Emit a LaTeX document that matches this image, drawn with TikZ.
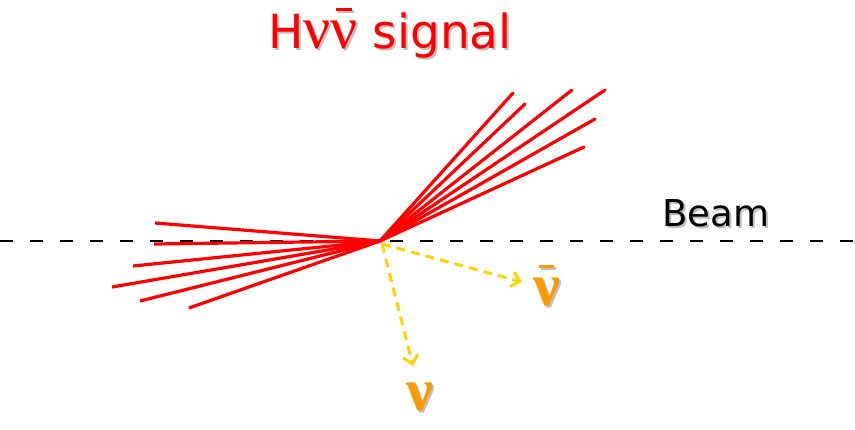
\documentclass[tikz,border=0pt]{standalone}
\usepackage{fontspec}
\setmainfont{DejaVu Sans}
\newfontfamily\nufont{Liberation Serif}
\usetikzlibrary{arrows,arrows.meta,positioning,calc}
\definecolor{nuyellow}{RGB}{255,210,0}
\definecolor{nuorange}{RGB}{255,153,0}
\newcommand{\nubarsym}{ν\llap{\raisebox{0.62em}{\rule{0.26em}{0.05em}}\hspace{0.1em}}}

\begin{document}
\begin{tikzpicture}[x=1pt,y=-1pt,
  jet/.style={red,line width=3.2pt},
  nuarrow/.style={-{Straight Barb[length=8pt,width=15pt]},nuyellow,line width=3pt,dash pattern=on 9pt off 6pt},
  shadowtxt/.style={gray!50,inner sep=0pt},
  titlefont/.style={font=\fontsize{47}{50}\selectfont},
  beamfont/.style={font=\fontsize{37}{40}\selectfont},
  nulabel/.style={font=\nufont\bfseries\fontsize{60}{64}\selectfont}]
  \useasboundingbox (0,0) rectangle (855,429);

  % ビーム軸
  \coordinate (vtx) at (380,241);
  \coordinate (beamL) at (0,241);
  \coordinate (beamR) at (855,241);
  \draw[line width=1.1pt,dash pattern=on 13pt off 17pt] (beamL) -- (beamR);

  % ジェット
  \foreach \x/\y in {513/93,525/104,572/90,605/90,595/119,584/147}
    \draw[jet,line cap=round] (vtx) -- (\x,\y);
  \foreach \x/\y in {155/223,154/244,133/266,112/287,140/301,189/308}
    \draw[jet] (vtx) -- (\x,\y);

  % ニュートリノ
  \coordinate (nustart) at (382,244);
  \coordinate (nubarend) at (522,282);
  \coordinate (nuend) at (413,366);
  \draw[nuarrow] (nustart) -- (nubarend);
  \draw[nuarrow] (nustart) -- (nuend);

  % ラベル
  \coordinate (titlepos) at (268,48);
  \node[shadowtxt,anchor=base west,titlefont] at ($(titlepos)+(2,2)$) {H{\nufont\fontsize{60}{64}\selectfont ν\nubarsym} signal};
  \node[red,inner sep=0pt,anchor=base west,titlefont] (title) at (titlepos) {H{\nufont\fontsize{60}{64}\selectfont ν\nubarsym} signal};

  \coordinate (beampos) at (662,226);
  \node[shadowtxt,anchor=base west,beamfont] at ($(beampos)+(2,2)$) {Beam};
  \node[inner sep=0pt,anchor=base west,beamfont] (beam) at (beampos) {Beam};

  \coordinate (nubarpos) at (547,305);
  \node[shadowtxt,anchor=base,nulabel] at ($(nubarpos)+(2,2)$) {\nubarsym};
  \node[nuorange,inner sep=0pt,anchor=base,nulabel] (nubar) at (nubarpos) {\nubarsym};

  \coordinate (nupos) at (420,410);
  \node[shadowtxt,anchor=base,nulabel] at ($(nupos)+(2,2)$) {ν};
  \node[nuorange,inner sep=0pt,anchor=base,nulabel] (nu) at (nupos) {ν};
\end{tikzpicture}
\end{document}
